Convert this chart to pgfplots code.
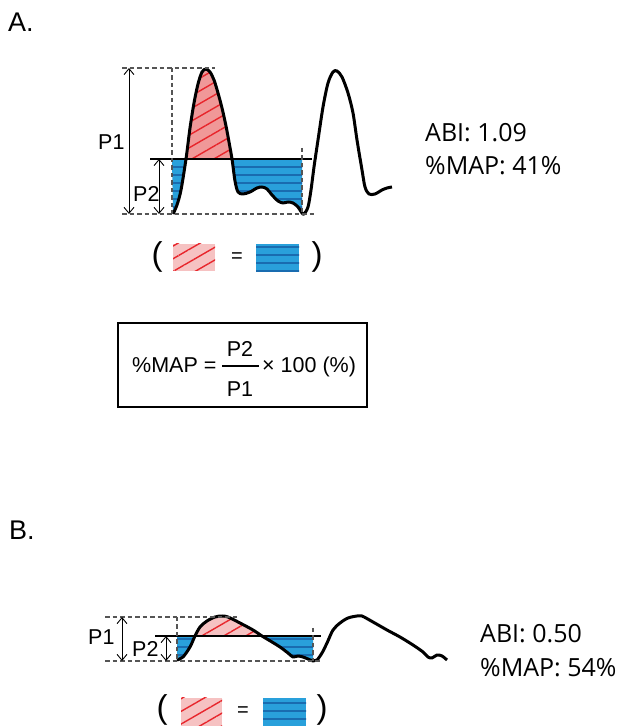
\documentclass[border=0pt]{standalone}
\usepackage{pgfplots}
\pgfplotsset{compat=1.18}
\usepgfplotslibrary{fillbetween}
\usetikzlibrary{patterns.meta,arrows.meta}
\usepackage{fontspec}
\setmainfont{Liberation Sans}
\newfontfamily\seg{Open Sans}
\definecolor{redfillA}{RGB}{240,152,152}
\definecolor{redfillL}{RGB}{246,194,194}
\definecolor{redline}{RGB}{232,38,44}
\definecolor{bluefill}{RGB}{41,160,219}
\definecolor{bluestripe}{RGB}{25,108,176}
\definecolor{dashgray}{RGB}{85,85,85}
\tikzset{
  redhatch/.style={pattern={Lines[angle=30,distance=11pt,line width=1.4pt]},pattern color=redline},
  bluehatch/.style={pattern={Lines[angle=0,distance=8pt,line width=2.2pt]},pattern color=bluestripe},
  dsh/.style={dashgray,line width=1.3pt,dash pattern=on 4.5pt off 3pt},
  dim/.style={black,line width=0.9pt,{Straight Barb[length=6pt,width=10pt]}-{Straight Barb[length=6pt,width=10pt]}},
}
\begin{document}
\begin{tikzpicture}
\begin{axis}[
  scale only axis, width=620pt, height=727pt,
  xmin=0, xmax=620, ymin=0, ymax=727, y dir=reverse,
  hide axis, clip=false, set layers,
]
\path (axis cs:0,0) rectangle (axis cs:620,727);
% ---------- A ----------
\addplot[name path=curveA, black, line width=3pt, smooth, line join=round] coordinates {
(173,214) (177,205) (181,190) (186,159) (190,128) (194,103) (198,84) (202,72) (206,69) (210,72) (214,80) (218,93) (222,108) (226,126) (229,142) (232,159) (235,181) (238,192) (243,194) (250,192) (257,188) (262,187) (267,189) (272,195) (278,201) (283,203) (288,202) (293,203) (298,207) (302,213) (304,214) (308,207) (311,190) (314,167) (318,140) (323,107) (328,83) (333,72) (337,71) (342,77) (348,93) (353,113) (357,140) (362,170) (365,187) (369,194) (375,194) (382,190) (387,188) (392,187)};
\addplot[name path=lineA, black, line width=2pt] coordinates {(150,159) (312,159)};
\addplot[fill=bluefill, draw=none] fill between[of=curveA and lineA, soft clip={domain=172:302}];
\addplot[bluehatch, draw=none] fill between[of=curveA and lineA, soft clip={domain=172:302}];
\addplot[fill=redfillA, draw=none] fill between[of=curveA and lineA, soft clip={domain=186:232}];
\addplot[redhatch, draw=none] fill between[of=curveA and lineA, soft clip={domain=186:232}];
\addplot[dsh] coordinates {(122,68) (215,68)};
\addplot[dsh] coordinates {(122,214) (317,214)};
\addplot[dsh] coordinates {(172,68) (172,214)};
\addplot[dsh] coordinates {(302,148) (302,214)};
\addplot[dim] coordinates {(129,68) (129,214)};
\addplot[dim] coordinates {(159,159) (159,214)};
\node[anchor=base west, font=\fontsize{27}{30}\selectfont, inner sep=0pt] at (axis cs:8,32) {A.};
\node[anchor=base west, font=\fontsize{21.5}{24}\selectfont, inner sep=0pt] at (axis cs:98,150) {P1};
\node[anchor=base west, font=\fontsize{21.5}{24}\selectfont, inner sep=0pt] at (axis cs:133,202) {P2};
\node[anchor=base west, font=\seg\fontsize{25}{28}\selectfont, inner sep=0pt] at (axis cs:425,142) {ABI: 1.09};
\node[anchor=base west, font=\seg\fontsize{25}{28}\selectfont, inner sep=0pt] at (axis cs:425,175) {\%MAP: 41\%};
% legend A
\addplot[fill=redfillL, draw=none] coordinates {(173,244) (215,244) (215,271) (173,271)} --cycle;
\addplot[redhatch, draw=none] coordinates {(173,244) (215,244) (215,271) (173,271)} --cycle;
\addplot[fill=bluefill, draw=none] coordinates {(256,244) (299,244) (299,272) (256,272)} --cycle;
\addplot[bluehatch, draw=none] coordinates {(256,244) (299,244) (299,272) (256,272)} --cycle;
\node[font=\fontsize{33}{35}\selectfont, inner sep=0pt] at (axis cs:157,257) {(};
\node[font=\fontsize{20}{22}\selectfont, inner sep=0pt] at (axis cs:237,258) {=};
\node[font=\fontsize{33}{35}\selectfont, inner sep=0pt] at (axis cs:317,257) {)};
% formula box
\addplot[black, line width=1.2pt] coordinates {(118,323) (367,323) (367,407) (118,407)} --cycle;
\node[anchor=base west, font=\fontsize{21.5}{24}\selectfont, inner sep=0pt] at (axis cs:132,373) {\%MAP =};
\node[anchor=base, font=\fontsize{21.5}{24}\selectfont, inner sep=0pt] at (axis cs:240,357) {P2};
\addplot[black, line width=1.5pt] coordinates {(222,366) (259,366)};
\node[anchor=base, font=\fontsize{21.5}{24}\selectfont, inner sep=0pt] at (axis cs:240,397) {P1};
\node[anchor=base west, font=\fontsize{21.5}{24}\selectfont, inner sep=0pt] at (axis cs:262,373) {× 100 (\%)};
% ---------- B ----------
\addplot[name path=curveB, black, line width=3pt, smooth, line join=round] coordinates {
(177,660) (183,657) (190,647) (195,636) (200,627) (207,621) (215,617) (222,616) (228,617) (240,623) (253,630) (262,636) (272,642) (280,647) (288,653) (293,657) (298,656) (303,657) (308,659) (313,661) (317,660) (322,653) (327,643) (333,630) (340,623) (348,618) (357,616) (362,616) (373,622) (387,630) (400,637) (413,645) (423,652) (428,657) (432,658) (437,655) (442,656) (447,660)};
\addplot[name path=lineB, black, line width=2pt] coordinates {(155,636) (321,636)};
\addplot[fill=bluefill, draw=none] fill between[of=curveB and lineB, soft clip={domain=177:313}];
\addplot[bluehatch, draw=none] fill between[of=curveB and lineB, soft clip={domain=177:313}];
\addplot[fill=redfillL, draw=none] fill between[of=curveB and lineB, soft clip={domain=195:262}];
\addplot[redhatch, draw=none] fill between[of=curveB and lineB, soft clip={domain=195:262}];
\addplot[dsh] coordinates {(105,617) (237,617)};
\addplot[dsh] coordinates {(105,661) (320,661)};
\addplot[dsh] coordinates {(177,617) (177,661)};
\addplot[dsh] coordinates {(313,628) (313,661)};
\addplot[dim] coordinates {(122,617) (122,661)};
\addplot[dim] coordinates {(166,636) (166,661)};
\node[anchor=base west, font=\fontsize{27}{30}\selectfont, inner sep=0pt] at (axis cs:9,540) {B.};
\node[anchor=base west, font=\fontsize{21.5}{24}\selectfont, inner sep=0pt] at (axis cs:88,645) {P1};
\node[anchor=base west, font=\fontsize{21.5}{24}\selectfont, inner sep=0pt] at (axis cs:132,657) {P2};
\node[anchor=base west, font=\seg\fontsize{25}{28}\selectfont, inner sep=0pt] at (axis cs:480,643) {ABI: 0.50};
\node[anchor=base west, font=\seg\fontsize{25}{28}\selectfont, inner sep=0pt] at (axis cs:480,677) {\%MAP: 54\%};
% legend B
\addplot[fill=redfillL, draw=none] coordinates {(181,698) (222,698) (222,726) (181,726)} --cycle;
\addplot[redhatch, draw=none] coordinates {(181,698) (222,698) (222,726) (181,726)} --cycle;
\addplot[fill=bluefill, draw=none] coordinates {(263,698) (306,698) (306,726) (263,726)} --cycle;
\addplot[bluehatch, draw=none] coordinates {(263,698) (306,698) (306,726) (263,726)} --cycle;
\node[font=\fontsize{33}{35}\selectfont, inner sep=0pt] at (axis cs:162,710) {(};
\node[font=\fontsize{20}{22}\selectfont, inner sep=0pt] at (axis cs:243,712) {=};
\node[font=\fontsize{33}{35}\selectfont, inner sep=0pt] at (axis cs:322,710) {)};
\end{axis}
\end{tikzpicture}
\end{document}
